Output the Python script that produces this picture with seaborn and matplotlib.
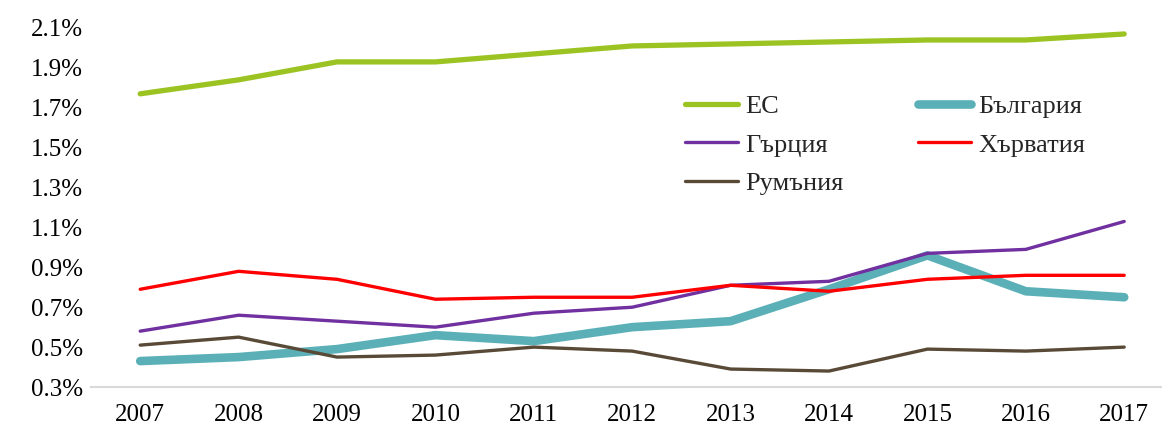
import numpy as np
import pandas as pd
import seaborn as sns
import matplotlib.pyplot as plt
from matplotlib.ticker import FuncFormatter

# data (% values)
years = [2007, 2008, 2009, 2010, 2011, 2012, 2013, 2014, 2015, 2016, 2017]
eu = [1.77, 1.84, 1.93, 1.93, 1.97, 2.01, 2.02, 2.03, 2.04, 2.04, 2.07]
bulgaria = [0.43, 0.45, 0.49, 0.56, 0.53, 0.60, 0.63, 0.79, 0.96, 0.78, 0.75]
greece = [0.58, 0.66, 0.63, 0.60, 0.67, 0.70, 0.81, 0.83, 0.97, 0.99, 1.13]
croatia = [0.79, 0.88, 0.84, 0.74, 0.75, 0.75, 0.81, 0.78, 0.84, 0.86, 0.86]
romania = [0.51, 0.55, 0.45, 0.46, 0.50, 0.48, 0.39, 0.38, 0.49, 0.48, 0.50]

names = ['ЕС', 'Гърция', 'Румъния', 'България', 'Хърватия']
values = [eu, greece, romania, bulgaria, croatia]
colors = ['#9BC423', '#7030A0', '#584A37', '#5BB0B8', '#FF0000']
widths = [3.8, 2.4, 2.4, 6.2, 2.4]

df = pd.DataFrame({'year': years})
for n, v in zip(names, values):
    df[n] = v
long_df = df.melt(id_vars='year', var_name='series', value_name='value')

sns.set_style('white')
plt.rcParams['font.family'] = ['Liberation Serif', 'DejaVu Serif']

fig = plt.figure(figsize=(11.62, 4.32), dpi=100)
ax = fig.add_axes([91 / 1162, 1 - 387 / 432, 1071 / 1162, 359 / 432])

# draw bulgaria first so the thin lines sit on top, like the original
draw_order = ['ЕС', 'България', 'Гърция', 'Хърватия', 'Румъния']
for n in draw_order:
    i = names.index(n)
    sns.lineplot(data=long_df[long_df['series'] == n], x='year', y='value',
                 color=colors[i], linewidth=widths[i], ax=ax,
                 solid_capstyle='round', solid_joinstyle='round', label=n,
                 legend=False)

ax.set_xlim(2006.5, 2006.5 + 1071 / 98.4)
ax.set_ylim(0.3, 2.1)
ax.set_yticks(np.arange(0.3, 2.11, 0.2))
ax.yaxis.set_major_formatter(FuncFormatter(lambda v, p: f'{v:.1f}%'))
ax.set_xticks(years)
ax.set_xlabel('')
ax.set_ylabel('')
ax.tick_params(axis='both', length=0, labelsize=18, colors='black')
ax.tick_params(axis='x', pad=12)
ax.tick_params(axis='y', pad=6)
for s in ['top', 'right', 'left']:
    ax.spines[s].set_visible(False)
ax.spines['bottom'].set_color('#D9D9D9')
ax.spines['bottom'].set_linewidth(1.5)

handles, labels = ax.get_legend_handles_labels()
order = [labels.index(n) for n in names]
fig.legend([handles[k] for k in order], [labels[k] for k in order],
           ncol=2, frameon=False, loc='upper left',
           bbox_to_anchor=(685 / 1162, 1 - 95 / 432), fontsize=19,
           handlelength=2.0, handletextpad=0.3, columnspacing=2.8,
           labelspacing=0.56, borderpad=0, borderaxespad=0)

plt.savefig('out.png', dpi=100)
